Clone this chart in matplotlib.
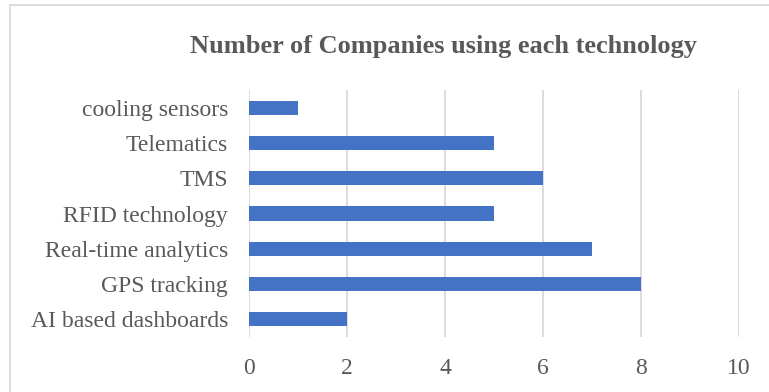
import numpy as np
from matplotlib import pyplot as plt
from matplotlib.patches import Rectangle

# data (bottom to top)
technologies = ['AI based dashboards', 'GPS tracking', 'Real-time analytics',
                'RFID technology', 'TMS', 'Telematics', 'cooling sensors']
companies = [2, 8, 7, 5, 6, 5, 1]
x_ticks = [0, 2, 4, 6, 8, 10]

text_col = '#595959'
grid_col = '#D9D9D9'
bar_col = '#4472C4'

plt.rcParams['font.family'] = ['Liberation Serif', 'DejaVu Serif']

fig = plt.figure(figsize=(7.69, 3.92), dpi=100)
ax = fig.add_axes([249/769, 1-337/392, (739-249)/769, (337-90)/392])

y = np.arange(len(technologies))
ax.barh(y, companies, height=0.4, color=bar_col, zorder=3)

ax.set_xlim(0, 10)
ax.set_ylim(-0.5, len(technologies)-0.5)
ax.set_xticks(x_ticks)
ax.set_yticks(y)
ax.set_yticklabels(technologies)
ax.grid(axis='x', color=grid_col, linewidth=1.3, zorder=0)
for s in ax.spines.values():
    s.set_visible(False)
ax.tick_params(axis='both', length=0, colors=text_col, labelsize=17)
ax.tick_params(axis='y', pad=15)
ax.tick_params(axis='x', pad=15)

fig.text(444/769, 1-46/392, 'Number of Companies using each technology',
         ha='center', va='center', fontsize=19, fontweight='bold', color=text_col)

# chart border
fig.patches.append(Rectangle((10/769, -0.05), 1.1, 1-5/392+0.05, transform=fig.transFigure,
                             fill=False, edgecolor=grid_col, linewidth=1.3))

plt.savefig('out.png', dpi=100)
